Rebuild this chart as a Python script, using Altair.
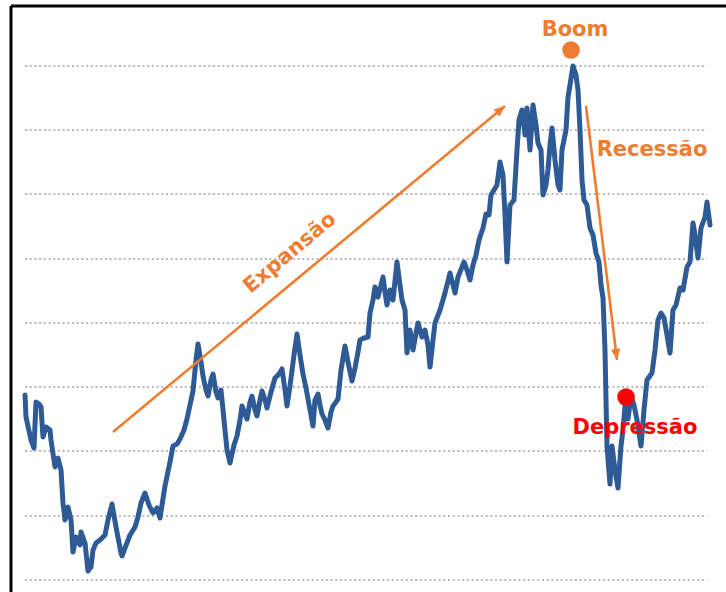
import altair as alt
import pandas as pd

# time index (weeks) and index level
t = [0, 1, 6, 9, 11, 14, 16, 18, 21, 25, 26, 30, 33, 36, 38, 40, 43, 46, 48, 51,
     55, 56, 60, 63, 66, 68, 71, 75, 80, 83, 87, 91, 96, 97, 100, 105, 110, 113, 116, 120,
     124, 128, 132, 135, 140, 145, 148, 152, 155, 159, 162, 165, 168, 171, 173, 176, 178, 181, 183, 186,
     188, 191, 193, 196, 199, 202, 205, 209, 212, 215, 217, 220, 222, 225, 227, 230, 232, 235, 237, 240,
     242, 246, 250, 254, 257, 260, 262, 265, 269, 272, 275, 278, 281, 283, 286, 288, 290, 293, 295, 297,
     300, 303, 306, 308, 311, 313, 316, 320, 323, 327, 330, 333, 335, 339, 343, 345, 348, 350, 353, 356,
     358, 360, 362, 365, 368, 372, 375, 377, 380, 382, 385, 388, 391, 393, 397, 400, 403, 405, 408, 410,
     415, 420, 425, 428, 430, 433, 435, 439, 442, 445, 448, 451, 454, 458, 461, 464, 466, 469, 472, 475,
     478, 480, 482, 485, 489, 492, 494, 497, 500, 502, 505, 508, 511, 513, 516, 518, 521, 523, 525, 527,
     530, 533, 535, 537, 539, 541, 543, 545, 548, 551, 553, 555, 557, 559, 562, 565, 568, 571, 574, 576,
     578, 580, 581, 582, 585, 587, 590, 593, 596, 598, 600, 603, 606, 609, 612, 616, 619, 622, 627, 630,
     633, 636, 639, 642, 645, 648, 651, 655, 658, 662, 665, 668, 670, 673, 676, 680, 682, 685]
level = [185, 163, 140, 132, 178, 176, 173, 143, 153, 150, 140, 113, 122, 110, 77, 60, 73, 60, 28, 43,
         35, 48, 37, 9, 13, 30, 37, 40, 45, 60, 76, 53, 27, 24, 32, 45, 53, 63, 77, 87,
         75, 67, 72, 62, 94, 118, 134, 136, 141, 150, 161, 175, 189, 220, 236, 218, 204, 190, 184, 200,
         206, 188, 182, 190, 160, 130, 117, 135, 144, 160, 174, 166, 161, 178, 184, 170, 164, 180, 189, 180,
         172, 188, 202, 206, 211, 190, 174, 194, 225, 246, 225, 206, 192, 181, 165, 154, 180, 186, 175, 166,
         160, 152, 168, 174, 178, 181, 210, 234, 218, 199, 212, 228, 240, 242, 243, 267, 280, 293, 283, 295,
         303, 288, 275, 290, 280, 318, 295, 280, 270, 227, 250, 230, 247, 257, 243, 250, 235, 213, 240, 257,
         270, 287, 307, 295, 287, 303, 308, 318, 310, 300, 315, 325, 340, 352, 366, 365, 385, 390, 395, 418,
         405, 365, 318, 375, 380, 430, 460, 470, 445, 472, 430, 475, 455, 437, 430, 385, 395, 410, 435, 452,
         420, 395, 390, 430, 440, 450, 483, 495, 514, 505, 490, 450, 400, 380, 375, 352, 345, 327, 318, 295,
         282, 230, 180, 134, 96, 134, 110, 92, 134, 150, 174, 161, 184, 175, 160, 134, 170, 200, 207, 230,
         260, 267, 262, 245, 227, 270, 275, 292, 290, 313, 318, 357, 345, 322, 352, 363, 378, 355]

grid_levels = [0, 64, 129, 193, 257, 321, 386, 450, 514]

labels = ["Boom", "Expansão", "Recessão", "Depressão"]
label_t = [550, 265, 627, 610]
label_v = [550, 327, 430, 152]
label_color = ["#ED7D31", "#ED7D31", "#ED7D31", "#FF0000"]
label_angle = [0, 320, 0, 0]

dot_t = [546, 601]
dot_v = [530, 183]
dot_color = ["#ED7D31", "#FF0000"]

arrow_t = [88, 561]
arrow_v = [148, 474]
arrow_t2 = [480, 592]
arrow_v2 = [474, 220]
arrow_angle = [50, 173]

XD = [-25, 701]
YD = [-12, 580]

series = pd.DataFrame({"t": t, "level": level})
grid = pd.DataFrame({"v": grid_levels, "t0": 0, "t1": 682})
ann = pd.DataFrame({"label": labels, "t": label_t, "v": label_v,
                    "color": label_color, "angle": label_angle})
dots = pd.DataFrame({"t": dot_t, "v": dot_v, "color": dot_color})
arrows = pd.DataFrame({"t": arrow_t, "v": arrow_v, "t2": arrow_t2, "v2": arrow_v2,
                       "angle": arrow_angle})
frame = pd.DataFrame({"t": [-14, -14], "v": [-12, 574], "t2": [-14, 701], "v2": [574, 574]})

xs = alt.Scale(domain=XD, zero=False, nice=False)
ys = alt.Scale(domain=YD, zero=False, nice=False)

gridlines = alt.Chart(grid).mark_rule(
    color="#B8B8B8", strokeWidth=2, strokeDash=[2, 2.7]
).encode(
    x=alt.X("t0:Q", scale=xs, axis=None), x2="t1:Q",
    y=alt.Y("v:Q", scale=ys, axis=None),
)

frame_lines = alt.Chart(frame).mark_rule(color="#000000", strokeWidth=3).encode(
    x=alt.X("t:Q", scale=xs, axis=None), x2="t2:Q",
    y=alt.Y("v:Q", scale=ys, axis=None), y2="v2:Q",
)

line = alt.Chart(series).mark_line(
    color="#2E5A95", strokeWidth=5, strokeJoin="round", strokeCap="round"
).encode(
    x=alt.X("t:Q", scale=xs, axis=None),
    y=alt.Y("level:Q", scale=ys, axis=None),
    order="t:Q",
)

arrow_lines = alt.Chart(arrows).mark_rule(color="#ED7D31", strokeWidth=2.6).encode(
    x=alt.X("t:Q", scale=xs, axis=None), x2="t2:Q",
    y=alt.Y("v:Q", scale=ys, axis=None), y2="v2:Q",
)

arrow_heads = alt.Chart(arrows).mark_point(
    shape="M0,0 L0.42,1 L-0.42,1 Z", size=484, filled=True, color="#ED7D31", opacity=1
).encode(
    x=alt.X("t2:Q", scale=xs, axis=None),
    y=alt.Y("v2:Q", scale=ys, axis=None),
    angle=alt.Angle("angle:Q", scale=None),
)

dot_marks = alt.Chart(dots).mark_circle(size=310, opacity=1).encode(
    x=alt.X("t:Q", scale=xs, axis=None),
    y=alt.Y("v:Q", scale=ys, axis=None),
    color=alt.Color("color:N", scale=None),
)

texts = alt.Chart(ann).mark_text(
    font="DejaVu Sans", fontSize=21, fontWeight="bold", align="center", baseline="middle"
).encode(
    x=alt.X("t:Q", scale=xs, axis=None),
    y=alt.Y("v:Q", scale=ys, axis=None),
    text="label:N",
    color=alt.Color("color:N", scale=None),
    angle=alt.Angle("angle:Q", scale=None),
)

chart = alt.layer(
    gridlines, line, arrow_lines, arrow_heads, dot_marks, texts, frame_lines
).properties(
    width=726, height=592,
    autosize=alt.AutoSizeParams(type="none"),
    padding={"left": 0, "right": 0, "top": 0, "bottom": 0},
    background="#FFFFFF",
).configure_view(stroke=None)

chart.save("out.html", embed_options={"renderer": "svg", "actions": False})
